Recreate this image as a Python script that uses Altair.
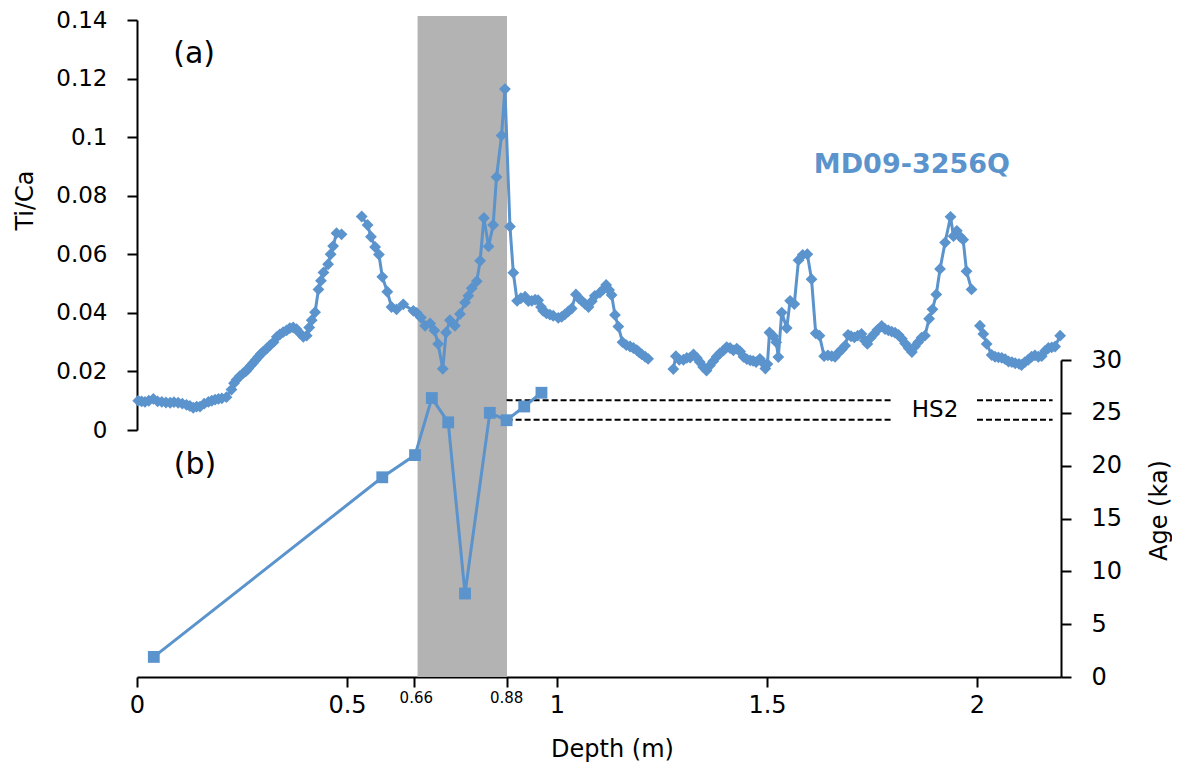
import altair as alt
import pandas as pd

# ---------------- data ----------------
depth = [
    0.003, 0.011, 0.019, 0.028, 0.039, 0.049, 0.059, 0.069, 0.079, 0.088,
    0.098, 0.108, 0.118, 0.126, 0.134, 0.142, 0.150, 0.160, 0.170, 0.178,
    0.186, 0.194, 0.202, 0.213, 0.225, 0.231, 0.237, 0.245, 0.253, 0.259,
    0.265, 0.271, 0.277, 0.283, 0.289, 0.295, 0.301, 0.309, 0.317, 0.325,
    0.333, 0.340, 0.348, 0.356, 0.364, 0.372, 0.380, 0.388, 0.396, 0.404,
    0.410, 0.416, 0.424, 0.432, 0.438, 0.444, 0.455, 0.461, 0.467, 0.475,
    0.487,
    0.535, 0.549, 0.557, 0.567, 0.576, 0.584, 0.596, 0.606, 0.618, 0.634,
    0.658, 0.666, 0.676, 0.686, 0.698, 0.708, 0.717, 0.728, 0.736, 0.745,
    0.757, 0.769, 0.781, 0.789, 0.797, 0.809, 0.817, 0.826, 0.837, 0.848,
    0.856, 0.868, 0.876, 0.888, 0.896, 0.905, 0.914, 0.924, 0.932, 0.940,
    0.948, 0.955, 0.962, 0.967, 0.975, 0.983, 0.991, 1.003, 1.011, 1.019,
    1.027, 1.035, 1.045, 1.052, 1.059, 1.067, 1.075, 1.083, 1.090, 1.102,
    1.110, 1.117, 1.124, 1.130, 1.138, 1.146, 1.156, 1.165, 1.174, 1.182,
    1.190, 1.196, 1.202, 1.210, 1.217,
    1.277, 1.283, 1.291, 1.301, 1.309, 1.317, 1.325, 1.333, 1.340, 1.348,
    1.356, 1.364, 1.372, 1.380, 1.388, 1.396, 1.404, 1.412, 1.420, 1.428,
    1.436, 1.444, 1.452, 1.460, 1.467, 1.474, 1.483, 1.490, 1.496, 1.501,
    1.506, 1.515, 1.522, 1.527, 1.535, 1.547, 1.555, 1.565, 1.575, 1.585,
    1.596, 1.606, 1.616, 1.625, 1.636, 1.645, 1.654, 1.662, 1.670, 1.678,
    1.686, 1.693, 1.700, 1.708, 1.716, 1.725, 1.733, 1.739, 1.747, 1.755,
    1.763, 1.773, 1.781, 1.789, 1.797, 1.805, 1.813, 1.821, 1.829, 1.837,
    1.845, 1.852, 1.860, 1.868, 1.876, 1.886, 1.894, 1.903, 1.912, 1.924,
    1.937, 1.944, 1.952, 1.960, 1.967, 1.975, 1.987,
    2.007, 2.015, 2.023, 2.035, 2.043, 2.051, 2.059, 2.067, 2.075, 2.083,
    2.091, 2.100, 2.106, 2.114, 2.122, 2.130, 2.138, 2.146, 2.154, 2.162,
    2.170, 2.178, 2.186, 2.198,
]
ti_ca = [
    0.0100, 0.0098, 0.0096, 0.0100, 0.0106, 0.0098, 0.0096, 0.0094, 0.0093, 0.0095,
    0.0093, 0.0090, 0.0086, 0.0082, 0.0076, 0.0080, 0.0080, 0.0090, 0.0096, 0.0100,
    0.0104, 0.0106, 0.0108, 0.0112, 0.0138, 0.0160, 0.0172, 0.0184, 0.0194, 0.0200,
    0.0210, 0.0220, 0.0230, 0.0240, 0.0250, 0.0260, 0.0268, 0.0278, 0.0290, 0.0300,
    0.0318, 0.0326, 0.0334, 0.0340, 0.0348, 0.0350, 0.0344, 0.0330, 0.0318, 0.0322,
    0.0350, 0.0375, 0.0402, 0.0480, 0.0510, 0.0538, 0.0566, 0.0600, 0.0628, 0.0672,
    0.0668,
    0.0729, 0.0700, 0.0660, 0.0625, 0.0599, 0.0523, 0.0472, 0.0420, 0.0412, 0.0429,
    0.0407, 0.0400, 0.0384, 0.0356, 0.0364, 0.0340, 0.0294, 0.0209, 0.0333, 0.0375,
    0.0356, 0.0396, 0.0435, 0.0458, 0.0484, 0.0508, 0.0578, 0.0724, 0.0627, 0.0700,
    0.0864, 0.1006, 0.1164, 0.0695, 0.0537, 0.0441, 0.0450, 0.0455, 0.0440, 0.0441,
    0.0445, 0.0443, 0.0420, 0.0407, 0.0398, 0.0394, 0.0390, 0.0383, 0.0386, 0.0395,
    0.0405, 0.0415, 0.0463, 0.0450, 0.0441, 0.0430, 0.0420, 0.0440, 0.0458, 0.0469,
    0.0480, 0.0495, 0.0478, 0.0461, 0.0393, 0.0353, 0.0300, 0.0290, 0.0285, 0.0280,
    0.0273, 0.0265, 0.0258, 0.0250, 0.0243,
    0.0208, 0.0252, 0.0240, 0.0240, 0.0246, 0.0247, 0.0258, 0.0246, 0.0232, 0.0215,
    0.0203, 0.0220, 0.0235, 0.0250, 0.0262, 0.0271, 0.0283, 0.0280, 0.0272, 0.0278,
    0.0268, 0.0250, 0.0242, 0.0238, 0.0236, 0.0232, 0.0243, 0.0230, 0.0210, 0.0225,
    0.0333, 0.0320, 0.0300, 0.0249, 0.0401, 0.0348, 0.0441, 0.0430, 0.0580, 0.0598,
    0.0600, 0.0515, 0.0330, 0.0322, 0.0252, 0.0255, 0.0252, 0.0250, 0.0264, 0.0275,
    0.0288, 0.0325, 0.0320, 0.0316, 0.0322, 0.0328, 0.0305, 0.0294, 0.0315, 0.0328,
    0.0342, 0.0355, 0.0345, 0.0340, 0.0336, 0.0332, 0.0325, 0.0312, 0.0295, 0.0280,
    0.0266, 0.0285, 0.0300, 0.0315, 0.0322, 0.0380, 0.0412, 0.0463, 0.0550, 0.0640,
    0.0728, 0.0662, 0.0680, 0.0660, 0.0650, 0.0542, 0.0480,
    0.0356, 0.0328, 0.0294, 0.0256, 0.0250, 0.0248, 0.0246, 0.0242, 0.0234, 0.0232,
    0.0228, 0.0226, 0.0222, 0.0232, 0.0240, 0.0250, 0.0255, 0.0250, 0.0252, 0.0270,
    0.0280, 0.0282, 0.0285, 0.0322,
]
gap_depths = [0.51, 1.25, 1.995]   # where the Ti/Ca line is broken

age_depth = [0.040, 0.584, 0.662, 0.702, 0.741, 0.781, 0.840, 0.880, 0.922, 0.963]
age_ka = [1.9, 18.9, 21.0, 26.4, 24.1, 7.9, 25.0, 24.3, 25.6, 26.9]

hs2_age = [26.2, 26.2, 24.35, 24.35]
hs2_start = [0.88, 2.00, 0.88, 2.00]
hs2_end = [1.80, 2.18, 1.80, 2.18]

band_start = [0.668]
band_end = [0.881]

x_ticks = [0, 0.5, 0.66, 0.88, 1, 1.5, 2]
small_ticks = [0.665, 0.88]         # these two carry small labels
small_tick_labels = ["0.66", "0.88"]
small_label_age = -1.3              # just under the depth axis, in age units
ti_ticks = [0, 0.02, 0.04, 0.06, 0.08, 0.1, 0.12, 0.14]
age_ticks = [0, 5, 10, 15, 20, 25, 30]

ti_text = ["(a)"]
ti_text_depth = [0.136]
ti_text_val = [0.1285]
name_text = ["MD09-3256Q"]
name_depth = [1.845]
name_val = [0.0905]
age_text = ["(b)", "HS2"]
age_text_depth = [0.138, 1.90]
age_text_val = [20.1, 25.3]

# ---------------- tables ----------------
ti_df = pd.DataFrame({"depth": depth, "ti": ti_ca})
ti_df["seg"] = [sum(1 for g in gap_depths if d > g) for d in depth]
ti_df["idx"] = range(len(ti_df))
age_df = pd.DataFrame({"depth": age_depth, "age": age_ka})
hs2_df = pd.DataFrame({"depth": hs2_start, "x1": hs2_end, "age": hs2_age})
band_df = pd.DataFrame({"depth": band_start, "x1": band_end})
ti_text_df = pd.DataFrame({"depth": ti_text_depth, "ti": ti_text_val, "label": ti_text})
name_df = pd.DataFrame({"depth": name_depth, "ti": name_val, "label": name_text})
age_text_df = pd.DataFrame({"depth": age_text_depth, "age": age_text_val, "label": age_text})
small_df = pd.DataFrame({"depth": small_ticks, "label": small_tick_labels,
                         "age": [small_label_age] * len(small_ticks)})

BLUE = "#5b93cd"
FONT = "DejaVu Sans"
H = 657

xscale = alt.Scale(domain=[0, 2.2], nice=False, zero=False)
ti_scale = alt.Scale(domain=[0, 0.14], range=[410, 0], nice=False, zero=False)
age_scale = alt.Scale(domain=[0, 30], range=[H, H - 317], nice=False, zero=False)

x_axis = alt.Axis(
    values=x_ticks, format="~g", grid=False, title="Depth (m)", orient="bottom",
    domainColor="black", domainWidth=2, tickColor="black", tickWidth=2, tickSize=10,
    labelFont=FONT, labelColor="black", labelBaseline="top", labelPadding=6,
    labelFontSize=24,
    labelExpr="(datum.value == 0.66 || datum.value == 0.88) ? '' : datum.label",
    labelFlush=False, labelOverlap=False,
    titleFont=FONT, titleFontSize=24, titleFontWeight="normal", titleColor="black",
    titleX=475, titleY=72, titleBaseline="middle", titleAlign="center",
)
ti_axis = alt.Axis(
    values=ti_ticks, format="~g", grid=False, title="Ti/Ca", orient="left",
    domainColor="black", domainWidth=2, tickColor="black", tickWidth=2, tickSize=10,
    labelFont=FONT, labelFontSize=23, labelColor="black", labelPadding=20,
    labelOverlap=False,
    titleFont=FONT, titleFontSize=24, titleFontWeight="normal", titleColor="black",
    titleX=-112, titleY=180, titleAngle=270, titleAlign="center", titleBaseline="middle",
)
age_axis = alt.Axis(
    values=age_ticks, format="~g", grid=False, title="Age (ka)", orient="right",
    domainColor="black", domainWidth=2, tickColor="black", tickWidth=2, tickSize=10,
    labelFont=FONT, labelFontSize=24, labelColor="black", labelPadding=20,
    labelOverlap=False,
    titleFont=FONT, titleFontSize=24, titleFontWeight="normal", titleColor="black",
    titleX=98, titleY=H - 167, titleAngle=270, titleAlign="center", titleBaseline="middle",
)


def X(field="depth"):
    return alt.X(f"{field}:Q", scale=xscale, axis=x_axis)


band = alt.Chart(band_df).mark_rect(color="#b3b3b3").encode(
    x=X(), x2="x1:Q", y=alt.value(-4), y2=alt.value(H),
)

ti_line = alt.Chart(ti_df).mark_line(color=BLUE, strokeWidth=3).encode(
    x=X(),
    y=alt.Y("ti:Q", scale=ti_scale, axis=ti_axis),
    detail="seg:N",
    order="idx:Q",
)
ti_pts = alt.Chart(ti_df).mark_point(
    shape="diamond", filled=True, size=140, color=BLUE, opacity=1
).encode(
    x=X(),
    y=alt.Y("ti:Q", scale=ti_scale, axis=None),
)
a_text = alt.Chart(ti_text_df).mark_text(
    font=FONT, fontSize=30, color="black", align="center", baseline="middle"
).encode(
    x=X(),
    y=alt.Y("ti:Q", scale=ti_scale, axis=None),
    text="label:N",
)
name = alt.Chart(name_df).mark_text(
    font=FONT, fontSize=27, fontWeight="bold", color=BLUE, align="center", baseline="middle"
).encode(
    x=X(),
    y=alt.Y("ti:Q", scale=ti_scale, axis=None),
    text="label:N",
)

hs2 = alt.Chart(hs2_df).mark_rule(color="black", strokeWidth=2, strokeDash=[6, 3]).encode(
    x=X(), x2="x1:Q",
    y=alt.Y("age:Q", scale=age_scale, axis=age_axis),
)
age_line = alt.Chart(age_df).mark_line(color=BLUE, strokeWidth=3).encode(
    x=X(),
    y=alt.Y("age:Q", scale=age_scale, axis=None),
)
age_pts = alt.Chart(age_df).mark_point(
    shape="square", filled=True, size=140, color=BLUE, opacity=1
).encode(
    x=X(),
    y=alt.Y("age:Q", scale=age_scale, axis=None),
)
b_text = alt.Chart(age_text_df).mark_text(
    font=FONT, color="black", align="center", baseline="middle"
).encode(
    x=X(),
    y=alt.Y("age:Q", scale=age_scale, axis=None),
    text="label:N",
    size=alt.condition(alt.datum.label == "HS2", alt.value(23), alt.value(30)),
)
small_labels = alt.Chart(small_df).mark_text(
    font=FONT, fontSize=15, color="black", align="center", baseline="top"
).encode(
    x=X(),
    y=alt.Y("age:Q", scale=age_scale, axis=None),
    text="label:N",
)

chart = (
    alt.layer(band, hs2, ti_line, ti_pts, age_line, age_pts, a_text, name, b_text,
              small_labels)
    .resolve_scale(y="independent")
    .properties(
        width=924,
        height=H,
        autosize=alt.AutoSizeParams(type="none"),
        padding={"left": 129, "top": 12, "right": 111, "bottom": 91},
        background="white",
    )
    .configure_view(stroke=None)
)

chart.save("out.html", embed_options={"renderer": "svg", "actions": False})
